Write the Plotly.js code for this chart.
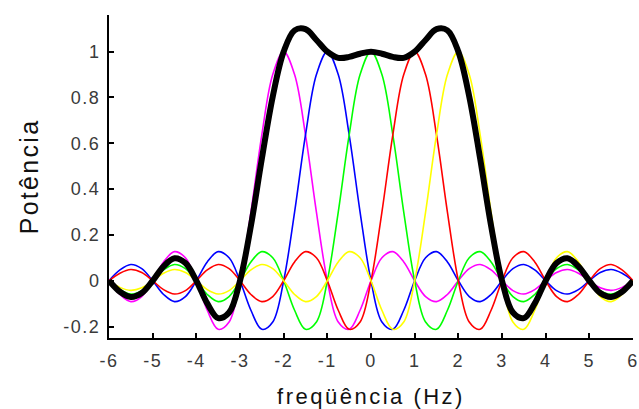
<!DOCTYPE html>
<html>
<head>
<meta charset="utf-8">
<script src="https://cdn.plot.ly/plotly-3.0.1.min.js"></script>
<style>
html,body{margin:0;padding:0;background:#fff;}
#chart{width:639px;height:409px;}
#chart .xtick text, #chart .ytick text{letter-spacing:1.5px;}
#chart .xtitle{letter-spacing:2.5px;}
#chart .ytitle{letter-spacing:2.3px;}
</style>
</head>
<body>
<div id="chart"></div>
<script>
// frequency grid (Hz), step 0.25
const freq = [-6,-5.75,-5.5,-5.25,-5,-4.75,-4.5,-4.25,-4,-3.75,-3.5,-3.25,-3,-2.75,-2.5,-2.25,-2,-1.75,-1.5,-1.25,-1,-0.75,-0.5,-0.25,0,0.25,0.5,0.75,1,1.25,1.5,1.75,2,2.25,2.5,2.75,3,3.25,3.5,3.75,4,4.25,4.5,4.75,5,5.25,5.5,5.75,6];

const magenta = [0,-0.060,-0.091,-0.069,0,0.082,0.127,0.100,0,-0.129,-0.212,-0.180,0,0.300,0.637,0.900,1.000,
  0.900,0.637,0.300,0,-0.180,-0.212,-0.129,0,0.100,0.127,0.082,0,-0.069,-0.091,-0.060,0,0.053,0.071,0.047,0,-0.043,-0.058,-0.039,0,0.036,0.049,0.033,0,-0.031,-0.042,-0.029,0];

const blue = [0,0.047,0.071,0.053,0,-0.060,-0.091,-0.069,0,0.082,0.127,0.100,0,-0.129,-0.212,-0.180,0,0.300,0.637,0.900,1.000,
  0.900,0.637,0.300,0,-0.180,-0.212,-0.129,0,0.100,0.127,0.082,0,-0.069,-0.091,-0.060,0,0.053,0.071,0.047,0,-0.043,-0.058,-0.039,0,0.036,0.049,0.033,0];

const green = [0,-0.039,-0.058,-0.043,0,0.047,0.071,0.053,0,-0.060,-0.091,-0.069,0,0.082,0.127,0.100,0,-0.129,-0.212,-0.180,0,0.300,0.637,0.900,1.000,
  0.900,0.637,0.300,0,-0.180,-0.212,-0.129,0,0.100,0.127,0.082,0,-0.069,-0.091,-0.060,0,0.053,0.071,0.047,0,-0.043,-0.058,-0.039,0];

const red = [0,0.033,0.049,0.036,0,-0.039,-0.058,-0.043,0,0.047,0.071,0.053,0,-0.060,-0.091,-0.069,0,0.082,0.127,0.100,0,-0.129,-0.212,-0.180,0,0.300,0.637,0.900,1.000,
  0.900,0.637,0.300,0,-0.180,-0.212,-0.129,0,0.100,0.127,0.082,0,-0.069,-0.091,-0.060,0,0.053,0.071,0.047,0];

const yellow = [0,-0.029,-0.042,-0.031,0,0.033,0.049,0.036,0,-0.039,-0.058,-0.043,0,0.047,0.071,0.053,0,-0.060,-0.091,-0.069,0,0.082,0.127,0.100,0,-0.129,-0.212,-0.180,0,0.300,0.637,0.900,1.000,
  0.900,0.637,0.300,0,-0.180,-0.212,-0.129,0,0.100,0.127,0.082,0,-0.069,-0.091,-0.060,0];

const total = [0,-0.048,-0.071,-0.054,0,0.063,0.098,0.077,0,-0.099,-0.163,-0.139,0,0.240,0.532,0.804,1.000,1.093,1.098,1.051,1.000,0.973,0.977,0.991,1.000,
  0.991,0.977,0.973,1.000,1.051,1.098,1.093,1.000,0.804,0.532,0.240,0,-0.139,-0.163,-0.099,0,0.077,0.098,0.063,0,-0.054,-0.071,-0.048,0];

const xTickVals = [-6,-5,-4,-3,-2,-1,0,1,2,3,4,5,6];
const xTickText = ["-6","-5","-4","-3","-2","-1","0","1","2","3","4","5","6"];
const yTickVals = [-0.2,0,0.2,0.4,0.6,0.8,1];
const yTickText = ["-0.2","0","0.2","0.4","0.6","0.8","1"];

const series = [
  {y: magenta, color: '#ff00ff'},
  {y: blue, color: '#0000ff'},
  {y: green, color: '#00ff00'},
  {y: red, color: '#ff0000'},
  {y: yellow, color: '#ffff00'}
];
const traces = series.map(s => ({
  x: freq, y: s.y, type: 'scatter', mode: 'lines',
  line: {color: s.color, width: 1.6, shape: 'spline', smoothing: 1},
  hoverinfo: 'skip'
}));
traces.push({x: freq, y: total, type: 'scatter', mode: 'lines',
  line: {color: '#000000', width: 6, shape: 'spline', smoothing: 1}, hoverinfo: 'skip'});

const layout = {
  width: 639, height: 409,
  margin: {l: 109, r: 6, t: 15, b: 71, pad: 0},
  paper_bgcolor: '#ffffff', plot_bgcolor: '#ffffff',
  showlegend: false,
  font: {family: 'Liberation Sans, Arial, sans-serif', color: '#3a3a3a', size: 18},
  xaxis: {
    range: [-6, 6], tickvals: xTickVals, ticktext: xTickText,
    ticks: 'inside', ticklen: 5, tickwidth: 2, tickcolor: '#000',
    showline: true, linecolor: '#000', linewidth: 2, showgrid: false, zeroline: false,
    ticklabelstandoff: 5,
    title: {text: 'freqüência (Hz)', font: {size: 22, color: '#111'}, standoff: 20}
  },
  yaxis: {
    range: [-0.25, 1.16], tickvals: yTickVals, ticktext: yTickText,
    ticks: 'inside', ticklen: 5, tickwidth: 2, tickcolor: '#000',
    showline: true, linecolor: '#000', linewidth: 2, showgrid: false, zeroline: false,
    ticklabelstandoff: 3,
    title: {text: 'Potência', font: {size: 25, color: '#111'}, standoff: 24}
  }
};
Plotly.newPlot('chart', traces, layout, {staticPlot: true, displayModeBar: false});
</script>
</body>
</html>
